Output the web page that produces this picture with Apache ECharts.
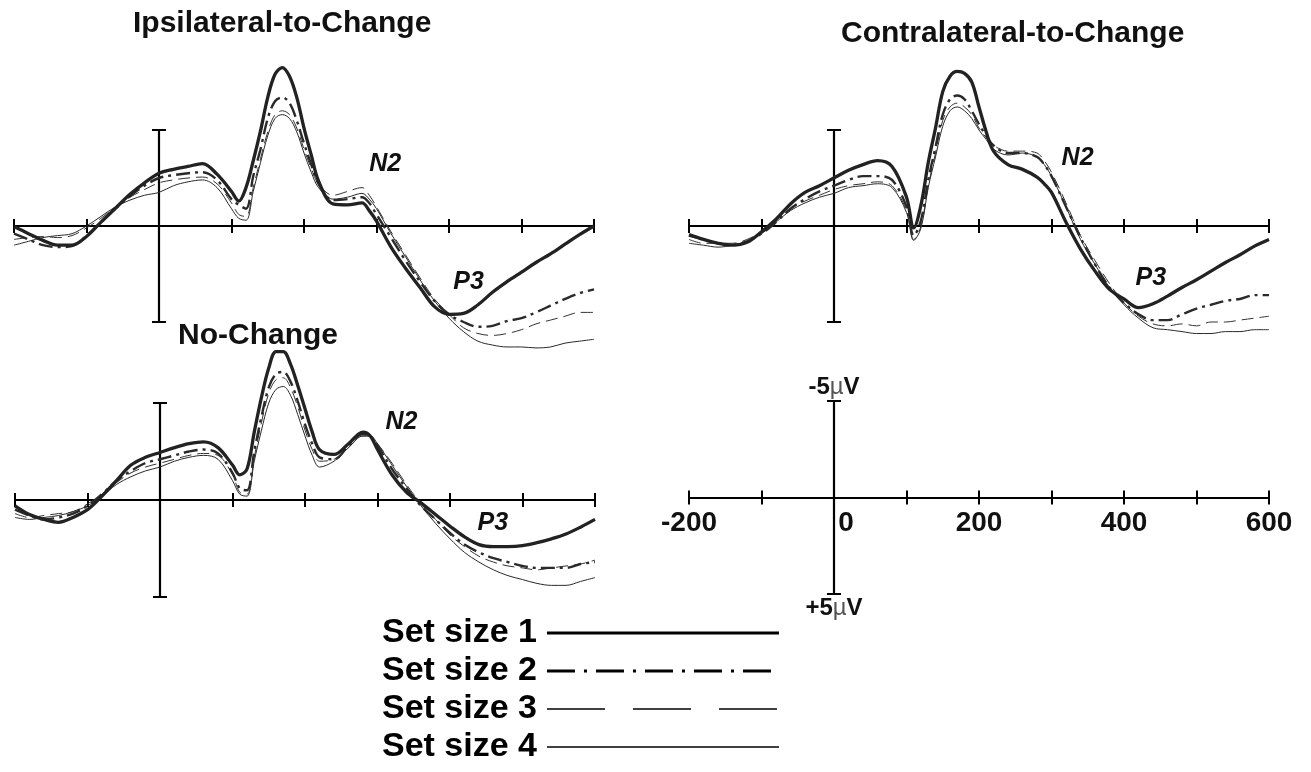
<!DOCTYPE html>
<html><head><meta charset="utf-8">
<script src="https://cdn.jsdelivr.net/npm/echarts@6/dist/echarts.min.js"></script>
<style>html,body{margin:0;padding:0;background:#fff}#c{width:1311px;height:772px}</style>
</head><body><div id="c"></div>
<script>
// ---------- DATA (ms, µV; negative plotted upward) ----------
const times = [-200,-180,-160,-140,-120,-100,-80,-60,-40,-20,0,20,40,60,80,100,110,120,130,140,150,160,170,180,190,200,210,220,240,260,280,290,300,320,340,360,380,400,420,440,460,480,500,520,540,560,580,600];

const ipsi1 = [0.03,0.4,0.75,1.0,1.0,0.55,-0.2,-0.93,-1.65,-2.25,-2.75,-2.95,-3.1,-3.25,-2.7,-1.8,-1.3,-2.0,-3.4,-4.95,-6.7,-7.9,-8.25,-7.8,-6.7,-5.1,-3.7,-2.35,-1.15,-1.1,-1.2,-0.8,-0.25,1.1,2.2,3.2,4.2,4.6,4.55,4.1,3.45,2.9,2.4,1.9,1.45,0.95,0.45,0];
const ipsi2 = [0.4,0.7,1.0,1.1,1.05,0.5,-0.2,-0.9,-1.55,-2.1,-2.5,-2.65,-2.75,-2.8,-2.4,-1.4,-1.1,-0.9,-2.6,-4.0,-5.6,-6.5,-6.7,-6.4,-5.5,-4.3,-3.2,-2.2,-1.35,-1.4,-1.5,-1.2,-0.6,0.6,1.8,2.9,3.9,4.6,5.0,5.25,5.2,4.95,4.8,4.5,4.15,3.8,3.5,3.3];
const ipsi3 = [0.7,0.6,0.55,0.6,0.5,0.1,-0.4,-1.0,-1.5,-1.9,-2.25,-2.4,-2.5,-2.55,-2.2,-1.2,-0.6,-0.5,-2.0,-3.5,-4.9,-5.8,-6.0,-5.8,-5.1,-4.0,-3.0,-2.2,-1.6,-1.8,-2.0,-1.6,-1.0,0.3,1.5,2.7,3.8,4.6,5.3,5.6,5.7,5.6,5.4,5.1,4.9,4.7,4.5,4.5];
const ipsi4 = [1.0,0.8,0.6,0.5,0.4,0.0,-0.5,-1.0,-1.35,-1.6,-1.75,-2.1,-2.3,-2.4,-2.0,-0.9,-0.4,-0.3,-1.8,-3.3,-4.7,-5.6,-5.8,-5.6,-4.9,-3.8,-2.8,-2.0,-1.4,-1.5,-1.7,-1.4,-0.9,0.4,1.6,2.8,3.9,4.8,5.5,6.0,6.2,6.3,6.3,6.35,6.3,6.1,6.0,5.9];

const nochg1 = [0.3,0.75,1.0,1.15,0.9,0.5,-0.2,-1.0,-1.8,-2.2,-2.45,-2.7,-2.9,-3.0,-2.7,-1.8,-1.3,-1.6,-3.5,-5.3,-6.8,-7.65,-7.65,-7.0,-5.9,-4.7,-3.5,-2.6,-2.35,-2.9,-3.5,-3.3,-2.6,-1.3,-0.4,0.15,0.75,1.35,1.9,2.3,2.4,2.4,2.35,2.2,2.0,1.75,1.4,1.0];
const nochg2 = [0.5,0.8,1.0,0.9,0.7,0.3,-0.3,-1.0,-1.5,-1.9,-2.1,-2.3,-2.5,-2.6,-2.4,-1.4,-0.6,-0.5,-2.5,-4.3,-5.8,-6.5,-6.6,-6.1,-5.1,-3.9,-2.9,-2.2,-2.1,-2.8,-3.4,-3.3,-2.8,-1.6,-0.6,0.3,1.0,1.7,2.3,2.7,3.0,3.2,3.4,3.5,3.5,3.5,3.3,3.2];
const nochg3 = [0.7,0.9,0.8,0.7,0.6,0.2,-0.3,-0.9,-1.4,-1.7,-1.9,-2.1,-2.3,-2.4,-2.3,-1.3,-0.4,-0.3,-2.2,-4.0,-5.5,-6.2,-6.3,-5.8,-4.8,-3.6,-2.6,-2.0,-2.1,-2.7,-3.3,-3.3,-2.9,-1.9,-0.8,0.2,1.0,1.8,2.4,2.9,3.2,3.4,3.5,3.6,3.5,3.4,3.3,3.1];
const nochg4 = [0.9,1.0,0.9,0.8,0.6,0.3,-0.2,-0.8,-1.2,-1.5,-1.7,-2.0,-2.2,-2.3,-2.1,-1.0,-0.3,-0.2,-2.0,-3.6,-5.0,-5.7,-5.85,-5.4,-4.4,-3.3,-2.3,-1.7,-2.0,-2.7,-3.3,-3.3,-2.9,-1.8,-0.7,0.3,1.2,2.0,2.7,3.2,3.6,3.9,4.1,4.3,4.4,4.4,4.2,4.0];

const contra1 = [0.45,0.7,0.9,1.0,0.85,0.3,-0.35,-1.15,-1.75,-2.1,-2.5,-2.9,-3.2,-3.4,-3.1,-1.5,0.1,-1.1,-3.3,-5.1,-7.0,-7.8,-8.05,-7.95,-7.5,-6.2,-4.9,-3.9,-3.2,-2.95,-2.55,-2.2,-1.75,-0.2,1.2,2.35,3.3,3.8,4.25,4.05,3.65,3.2,2.8,2.35,1.9,1.5,1.05,0.7];
const contra2 = [0.5,0.7,0.9,1.0,0.8,0.4,-0.2,-0.9,-1.4,-1.8,-2.1,-2.4,-2.6,-2.6,-2.4,-1.0,0.5,-0.3,-2.4,-4.1,-5.8,-6.6,-6.8,-6.6,-6.0,-5.3,-4.7,-4.2,-3.8,-3.8,-3.6,-3.2,-2.6,-1.0,0.6,2.0,3.2,4.0,4.6,4.9,4.9,4.6,4.3,4.1,3.9,3.8,3.6,3.6];
const contra3 = [0.7,0.9,0.9,0.9,0.7,0.3,-0.3,-0.9,-1.3,-1.6,-1.9,-2.1,-2.2,-2.3,-2.1,-0.8,0.7,0.0,-2.1,-3.8,-5.5,-6.2,-6.4,-6.2,-5.8,-5.1,-4.6,-4.2,-3.9,-3.9,-3.8,-3.4,-2.8,-1.2,0.5,1.8,3.0,4.0,4.7,5.1,5.2,5.1,5.2,5.0,5.0,4.9,4.8,4.7];
const contra4 = [0.9,1.0,1.1,1.0,0.8,0.4,-0.2,-0.8,-1.2,-1.5,-1.7,-2.0,-2.1,-2.2,-2.0,-0.7,0.75,0.1,-2.0,-3.6,-5.2,-6.0,-6.2,-6.0,-5.6,-5.0,-4.5,-4.0,-3.7,-3.8,-3.6,-3.2,-2.6,-1.0,0.7,2.0,3.2,4.1,4.8,5.3,5.4,5.5,5.6,5.6,5.5,5.5,5.4,5.4];

const setNames = ['Set size 1','Set size 2','Set size 3','Set size 4'];
const panelTitles = ['Ipsilateral-to-Change','No-Change','Contralateral-to-Change'];
const xTickLabels = [-200, 0, 200, 400, 600];
const scaleLabels = ['-5', '+5'];
const scaleUnit = ['µ', 'V'];
// component labels: [panel, text, time(ms), amplitude(µV)]
const peakLabels = [
  [0,'N2',312,-3.2],[0,'P3',427,2.9],
  [1,'N2',333,-4.0],[1,'P3',459,1.2],
  [2,'N2',336,-3.55],[2,'P3',437,2.7]
];

// ---------- LAYOUT / STYLE ----------
const panelSeries = [[ipsi1,ipsi2,ipsi3,ipsi4],[nochg1,nochg2,nochg3,nochg4],[contra1,contra2,contra3,contra4]];
const grids = [
  {left:14, top:130, width:580, height:192},
  {left:15, top:403, width:580, height:194},
  {left:689, top:130, width:580, height:192},
  {left:689, top:401, width:580, height:193},
  {left:689, top:401, width:580, height:96}   // tick-label carrier for the scale axis
];
const FONT = '"Liberation Sans", Arial, Helvetica, sans-serif';
const seriesStyle = [
  {color:'#222', width:3.3, type:'solid'},
  {color:'#2a2a2a', width:2.4, type:[14,5,3,5]},
  {color:'#333', width:1, type:[12,6]},
  {color:'#2a2a2a', width:1, type:'solid'}
];
const legendStyle = [
  {color:'#000', width:3, type:'solid'},
  {color:'#000', width:3, type:[28,9,3,9]},
  {color:'#000', width:1.3, type:[58,28]},
  {color:'#000', width:1.3, type:'solid'}
];

const xAxes = [], yAxes = [];
for (let gi = 0; gi < 4; gi++) {
  const isScale = gi === 3;
  const base = {
    type:'value', gridIndex:gi, min:-200, max:600, interval:100,
    splitLine:{show:false},
    axisTick:{show:true, inside:true, length:7, lineStyle:{color:'#000', width:2}},
    axisLabel:{show:false}
  };
  xAxes.push(Object.assign({}, base, {
    position:'bottom',
    axisLine:{show:true, onZero:true, onZeroAxisIndex:2*gi, lineStyle:{color:'#000', width:2.2}}
  }));
  xAxes.push(Object.assign({}, base, {
    position:'top',
    axisLine:{show:false, onZero:true, onZeroAxisIndex:2*gi+1}
  }));
  const ybase = {
    type:'value', gridIndex:gi, min:-5, max:5, interval:5, inverse:true,
    splitLine:{show:false}, axisLabel:{show:false},
    axisTick:{show:true, inside:false, length:7, lineStyle:{color:'#000', width:2}},
    nameTextStyle:{fontFamily:FONT, fontWeight:'bold', fontSize:24, color:'#111',
      rich:{m:{fontFamily:FONT, fontWeight:'normal', fontSize:24, color:'#555'}}},
    nameGap:2, nameMoveOverlap:false
  };
  yAxes.push(Object.assign({}, ybase, {
    position:'left',
    axisLine:{show:true, onZero:true, onZeroAxisIndex:2*gi, lineStyle:{color:'#000', width:2.2}},
    name: isScale ? scaleLabels[0] + '{m|' + scaleUnit[0] + '}' + scaleUnit[1] : '',
    nameLocation:'start'
  }));
  yAxes.push(Object.assign({}, ybase, {
    position:'right',
    axisLine:{show:false, onZero:true, onZeroAxisIndex:2*gi+1},
    name: isScale ? scaleLabels[1] + '{m|' + scaleUnit[0] + '}' + scaleUnit[1] : '',
    nameLocation:'end'
  }));
}
// label carrier axis (grid 4): its bottom edge sits on the scale axis' zero line
xAxes.push({
  type:'value', gridIndex:4, min:-200, max:600, interval:100, position:'bottom',
  splitLine:{show:false}, axisLine:{show:false, onZero:false}, axisTick:{show:false},
  axisLabel:{
    show:true, interval:0, margin:12, color:'#111',
    fontFamily:FONT, fontWeight:'bold', fontSize:28,
    formatter: v => xTickLabels.indexOf(v) < 0 ? '' : (v === 0 ? '{z|0}' : String(v)),
    rich:{z:{fontFamily:FONT, fontWeight:'bold', fontSize:28, color:'#111', padding:[0,0,0,24]}}
  }
});
yAxes.push({type:'value', gridIndex:4, min:0, max:1, show:false});

const series = [];
panelSeries.forEach((sets, pi) => {
  const marks = peakLabels.filter(p => p[0] === pi).map(p => ({name:p[1], coord:[p[2], p[3]]}));
  [3,2,1,0].forEach(k => {
    const st = seriesStyle[k];
    const s = {
      type:'line', name:setNames[k], xAxisIndex:2*pi, yAxisIndex:2*pi,
      data: times.map((t, i) => [t, sets[k][i]]),
      symbol:'none', showSymbol:false, smooth:0.35, clip:false, silent:true,
      itemStyle:{color:st.color}, lineStyle:{color:st.color, width:st.width, type:st.type},
      z: 5 - k
    };
    if (k === 0) {
      s.markPoint = {
        symbol:'circle', symbolSize:1, itemStyle:{color:'rgba(0,0,0,0)'}, silent:true,
        label:{show:true, position:'inside', formatter:p => p.name, color:'#111',
          fontFamily:FONT, fontWeight:'bold', fontStyle:'italic', fontSize:25},
        data: marks
      };
    }
    series.push(s);
  });
});

const titleLeft = [133, 178, 841];
const titleTop = [9, 321, 19];
const option = {
  animation:false,
  backgroundColor:'#fff',
  title: panelTitles.map((t, i) => ({
    text:t, left:titleLeft[i], top:titleTop[i], padding:0,
    textStyle:{fontFamily:FONT, fontWeight:'bold', fontSize:30, color:'#111'}
  })),
  legend:{
    orient:'vertical', left:382, top:615, align:'right', selectedMode:false,
    itemWidth:232, itemHeight:36, itemGap:2, padding:0,
    textStyle:{fontFamily:FONT, fontWeight:'bold', fontSize:34, color:'#000', lineHeight:36, padding:[0,5,0,0]},
    itemStyle:{color:'rgba(0,0,0,0)', borderColor:'rgba(0,0,0,0)', borderWidth:0},
    data: setNames.map((n, k) => ({name:n, lineStyle:legendStyle[k],
      itemStyle:{color:'rgba(0,0,0,0)', borderColor:'rgba(0,0,0,0)', borderWidth:0}}))
  },
  grid: grids,
  xAxis: xAxes,
  yAxis: yAxes,
  series: series
};
const chart = echarts.init(document.getElementById('c'), null, {renderer:'canvas'});
chart.setOption(option);
</script></body></html>
